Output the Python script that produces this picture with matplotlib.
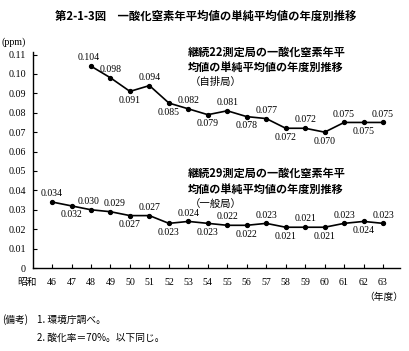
import matplotlib
matplotlib.use('Agg')
import matplotlib.pyplot as plt

plt.rcParams['font.family'] = ['Liberation Serif', 'Noto Sans CJK JP', 'DejaVu Sans']

# data
years_all = list(range(46, 64))
years_road = list(range(48, 64))
road_values = [0.104, 0.098, 0.091, 0.094, 0.085, 0.082, 0.079, 0.081,
               0.078, 0.077, 0.072, 0.072, 0.070, 0.075, 0.075, 0.075]
general_values = [0.034, 0.032, 0.030, 0.029, 0.027, 0.027, 0.023, 0.024, 0.023,
                  0.022, 0.022, 0.023, 0.021, 0.021, 0.021, 0.023, 0.024, 0.023]
y_ticks = [0, 0.01, 0.02, 0.03, 0.04, 0.05, 0.06, 0.07, 0.08, 0.09, 0.10, 0.11]
y_tick_labels = ['0', '0.01', '0.02', '0.03', '0.04', '0.05', '0.06', '0.07',
                 '0.08', '0.09', '0.10', '0.11']

# label placement: 'a' above the point, 'b' below
road_pos = list('aababababababab' + 'a')
general_pos = list('abaababababababab' + 'a')
# small sideways nudges (points) where labels crowd each other
road_nudge = {48: -2}
general_nudge = {48: -2, 49: 3}

W, H = 409, 351


def fx(px):
    return px / W


def fy(py):
    return 1 - py / H


fig = plt.figure(figsize=(W / 100, H / 100), dpi=100)
ax = fig.add_axes([fx(33), fy(268), fx(400) - fx(33), fy(52) - fy(268)])

ax.plot(years_road, road_values, color='black', lw=1.2, marker='o', ms=2.8)
ax.plot(years_all, general_values, color='black', lw=1.2, marker='o', ms=2.8)

for xs, vals, pos, nudge in [(years_road, road_values, road_pos, road_nudge),
                             (years_all, general_values, general_pos, general_nudge)]:
    for x, v, p in zip(xs, vals, pos):
        dy = 6 if p == 'a' else -6.5
        ax.annotate(f'{v:.3f}', (x, v), xytext=(nudge.get(x, 0), dy),
                    textcoords='offset points', ha='center', va='center', fontsize=7)

ax.set_xlim(45.02, 63.87)
ax.set_ylim(0, 0.1113)
ax.set_xticks(years_all)
ax.set_xticklabels([str(y) for y in years_all], fontsize=7.2)
ax.set_yticks(y_ticks)
ax.set_yticklabels(y_tick_labels, fontsize=7.2)
ax.tick_params(direction='in', length=3, width=0.8)
ax.tick_params(axis='x', pad=7)
ax.tick_params(axis='y', pad=5)
for s in ['top', 'right']:
    ax.spines[s].set_visible(False)
for s in ['left', 'bottom']:
    ax.spines[s].set_linewidth(1.0)

cjk = ['Noto Sans CJK JP', 'DejaVu Sans']
fig.text(fx(206), fy(16), '第2-1-3図　一酸化窒素年平均値の単純平均値の年度別推移',
         ha='center', va='center', fontsize=8.2, fontweight='bold', family=cjk)
fig.text(fx(2), fy(42), '(ppm)', ha='left', va='center', fontsize=7.2)

fig.text(fx(188), fy(52), '継続22測定局の一酸化窒素年平', ha='left', va='center',
         fontsize=8, fontweight='bold', family=cjk)
fig.text(fx(188), fy(67), '均値の単純平均値の年度別推移', ha='left', va='center',
         fontsize=8, fontweight='bold', family=cjk)
fig.text(fx(190), fy(82), '（自排局）', ha='left', va='center', fontsize=7.5, family=cjk)

fig.text(fx(188), fy(173), '継続29測定局の一酸化窒素年平', ha='left', va='center',
         fontsize=8, fontweight='bold', family=cjk)
fig.text(fx(188), fy(189), '均値の単純平均値の年度別推移', ha='left', va='center',
         fontsize=8, fontweight='bold', family=cjk)
fig.text(fx(190), fy(204), '（一般局）', ha='left', va='center', fontsize=7.5, family=cjk)

fig.text(fx(27), fy(282), '昭和', ha='center', va='center', fontsize=7, family=cjk)
fig.text(fx(384), fy(297), '（年度）', ha='center', va='center', fontsize=7, family=cjk)

fig.text(fx(2), fy(320), '(備考)', ha='left', va='center', fontsize=7, family=cjk)
fig.text(fx(37), fy(320), '1. 環境庁調べ。', ha='left', va='center', fontsize=7, family=cjk)
fig.text(fx(37), fy(338), '2. 酸化率＝70%。以下同じ。', ha='left', va='center', fontsize=7, family=cjk)

fig.savefig('out.png', dpi=100, facecolor='white')
